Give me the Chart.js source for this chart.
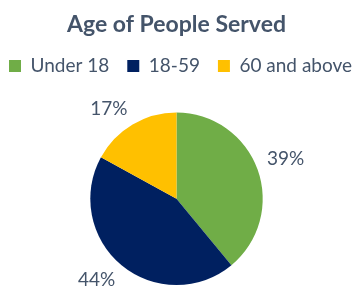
<!DOCTYPE html>
<html>
<head>
<meta charset="utf-8">
<script src="https://cdn.jsdelivr.net/npm/chart.js@4"></script>
<style>
  html, body { margin: 0; padding: 0; background: #fff; }
  #wrap { width: 353px; height: 292px; }
</style>
</head>
<body>
<div id="wrap"><canvas id="agePie"></canvas></div>
<script>
var ageGroups = ["Under 18", "18-59", "60 and above"];
var sharePct = [39, 44, 17];
var sliceColors = ["#70AD47", "#002060", "#FFC000"];

var textColor = "#44546A";

// percentage labels just outside each slice, pushed away from the pie
var outsideLabels = {
  id: "outsideLabels",
  afterDatasetsDraw: function(chart) {
    var ctx = chart.ctx;
    var meta = chart.getDatasetMeta(0);
    ctx.save();
    ctx.font = "19px Lato";
    ctx.fillStyle = textColor;
    ctx.textAlign = "center";
    ctx.textBaseline = "middle";
    meta.data.forEach(function(arc, i) {
      var txt = sharePct[i] + "%";
      var mid = (arc.startAngle + arc.endAngle) / 2;
      var cx = Math.cos(mid), cy = Math.sin(mid);
      var r = arc.outerRadius + 10;
      var hw = ctx.measureText(txt).width / 2;
      var x = arc.x + cx * r + Math.sign(cx) * hw;
      var y = arc.y + cy * r + Math.sign(cy) * 7;
      ctx.fillText(txt, x, y);
    });
    ctx.restore();
  }
};

// keep the legend on one row with wide gaps, starting near x=9,
// and leave room under it for the top label
var legendStart = 9;
var legendTweak = {
  id: "legendTweak",
  beforeInit: function(chart) {
    var fit = chart.legend.fit;
    chart.legend.fit = function() {
      var mw = this.maxWidth;
      this.maxWidth = 420;
      fit.call(this);
      this.maxWidth = mw;
      this.width = mw;
      this.height += 27;
    };
  },
  afterLayout: function(chart) {
    var lg = chart.legend;
    var lw = lg.lineWidths[0];
    var p = lg.options.labels.padding;
    lg.right = legendStart + lw + 1;
    lg.left = 2 * legendStart - lg.right - p + lw;
  }
};

new Chart("agePie", {
  type: "pie",
  data: {
    labels: ageGroups,
    datasets: [{
      data: sharePct,
      backgroundColor: sliceColors,
      borderWidth: 0
    }]
  },
  options: {
    responsive: true,
    maintainAspectRatio: false,
    animation: false,
    layout: { padding: { top: 0, bottom: 7, left: 0, right: 0 } },
    plugins: {
      title: {
        display: true,
        text: "Age of People Served",
        color: textColor,
        font: { family: "Lato", size: 23, weight: "bold" },
        padding: { top: 11, bottom: 0 }
      },
      legend: {
        position: "top",
        labels: {
          color: textColor,
          font: { family: "Lato", size: 19 },
          boxWidth: 12,
          boxHeight: 12,
          padding: 18
        }
      },
      tooltip: { enabled: false }
    }
  },
  plugins: [outsideLabels, legendTweak]
});
</script>
</body>
</html>
